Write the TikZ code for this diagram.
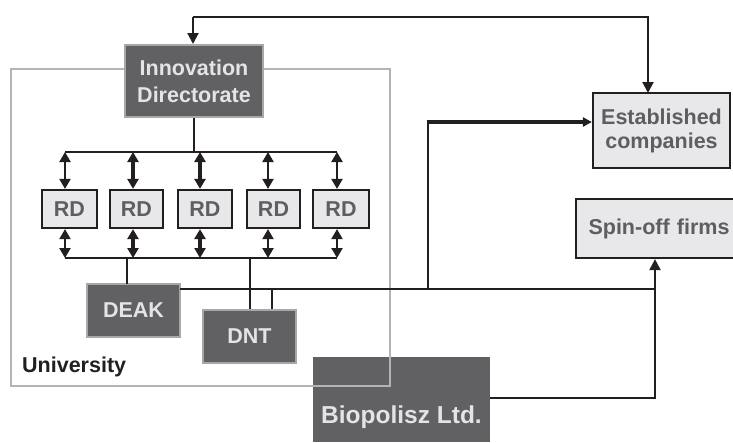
\documentclass[tikz,border=0pt]{standalone}
\usepackage{fontspec}
\setmainfont{Liberation Sans}
\usetikzlibrary{arrows.meta}
\definecolor{darkfill}{HTML}{616163}
\definecolor{darkedge}{HTML}{A8A8AA}
\definecolor{lightfill}{HTML}{E8E8EA}
\definecolor{lighttext}{HTML}{E4E4E6}
\definecolor{boxtext}{HTML}{5E5E60}
\definecolor{univedge}{HTML}{B4B4B6}
\definecolor{ink}{HTML}{231F20}
\begin{document}
\begin{tikzpicture}[x=1pt,y=-1pt,
  darkbox/.style={draw=darkedge,line width=2pt,fill=darkfill,text=lighttext,
    font=\fontsize{21.5}{27}\selectfont\bfseries,align=center,inner sep=0pt},
  lightbox/.style={draw=ink,line width=2.2pt,fill=lightfill,text=boxtext,
    font=\fontsize{21.5}{24}\selectfont\bfseries,align=center,inner sep=0pt},
  conn/.style={draw=ink,line width=2.1pt},
  arr/.style={conn,-{Triangle[length=11pt,width=11pt]}},
  darr/.style={conn,{Triangle[length=10pt,width=11pt]}-{Triangle[length=10pt,width=11pt]}},
]
\useasboundingbox (0,0) rectangle (733,442);
% Biopolisz (drawn below university frame)
\node[darkbox,draw=none,minimum width=177pt,minimum height=85pt] (bio) at (401.5,399.5) {};
\node[text=lighttext,font=\fontsize{24.5}{28}\selectfont\bfseries,inner sep=0pt] (biotext) at (401.5,417) {Biopolisz Ltd.};
% University frame
\node[draw=univedge,line width=1.8pt,minimum width=379pt,minimum height=317pt,inner sep=0pt] (univ) at (200.5,227.5) {};
\node[font=\fontsize{21.5}{24}\selectfont\bfseries,text=ink,anchor=west,inner sep=0pt] (univlabel) at (22,367) {University};
% boxes
\node[darkbox,minimum width=138pt,minimum height=72pt] (ID) at (194,81) {Innovation\\Directorate};
\node[lightbox,minimum width=55pt,minimum height=38pt] (rd1) at (69.5,209) {RD};
\node[lightbox,minimum width=53pt,minimum height=38pt] (rd2) at (136.5,209) {RD};
\node[lightbox,minimum width=54pt,minimum height=38pt] (rd3) at (205,209) {RD};
\node[lightbox,minimum width=53pt,minimum height=38pt] (rd4) at (273.5,209) {RD};
\node[lightbox,minimum width=56pt,minimum height=38pt] (rd5) at (341,209) {RD};
\node[darkbox,minimum width=93pt,minimum height=53pt] (DEAK) at (133.5,310.5) {DEAK};
\node[darkbox,minimum width=93pt,minimum height=53pt] (DNT) at (249.5,336.5) {DNT};
\node[lightbox,minimum width=137pt,minimum height=75pt] (est) at (661.5,130.5) {Established\\companies};
\node[lightbox,minimum width=162pt,minimum height=59pt,text width=162pt,align=center] (spin) at (657,228.5) {\hspace*{4pt}Spin-off firms};
% coordinates
\coordinate (topL) at (193,17);
\coordinate (topR) at (648,17);
\coordinate (estTop) at (648,93);
\coordinate (tbL) at (65,152);
\coordinate (tbR) at (337,152);
\coordinate (bbL) at (65,258);
\coordinate (bbR) at (337,258);
\coordinate (deakTop) at (127,284);
\coordinate (deakOut) at (180,289);
\coordinate (split) at (428,289);
\coordinate (turn) at (428,122);
\coordinate (spinIn) at (655,289);
\coordinate (bioOut) at (490,398);
\coordinate (bioTurn) at (655,398);
% top loop
\draw[arr] (topL) -- (ID.north -| topL);
\draw[arr] (topL) -- (topR) -- (estTop);
% ID to bar
\draw[conn] (ID.south) -- (ID.south |- tbL);
\draw[conn] (tbL) -- (tbR);
\draw[conn] (bbL) -- (bbR);
% double arrows
\foreach \x/\n/\w in {65/rd1/2.1, 133/rd2/3.2, 200/rd3/3.2, 268/rd4/2.1, 337/rd5/2.1}{
  \draw[darr,line width=\w pt] (\x,152) -- (\n.north -| \x,0);
  \draw[darr,line width=\w pt] (\n.south -| \x,0) -- (\x,258);
}
% DEAK / DNT links
\draw[conn] (deakTop |- bbL) -- (deakTop);
\draw[conn] (deakOut) -- (spinIn);
\draw[conn] (DNT.north -| 250,0) -- (250,258);
\draw[conn] (DNT.north -| 272,0) -- (272,289);
\draw[conn,line width=2.6pt] (split) -- (turn);
\draw[conn,line width=4pt,-{Triangle[length=9pt,width=9pt]}] (426.7,122) -- (est.west |- turn);
% Biopolisz to spin-off
\draw[arr] (bioOut) -- (bioTurn) -- (spin.south -| bioTurn);
\end{tikzpicture}
\end{document}
